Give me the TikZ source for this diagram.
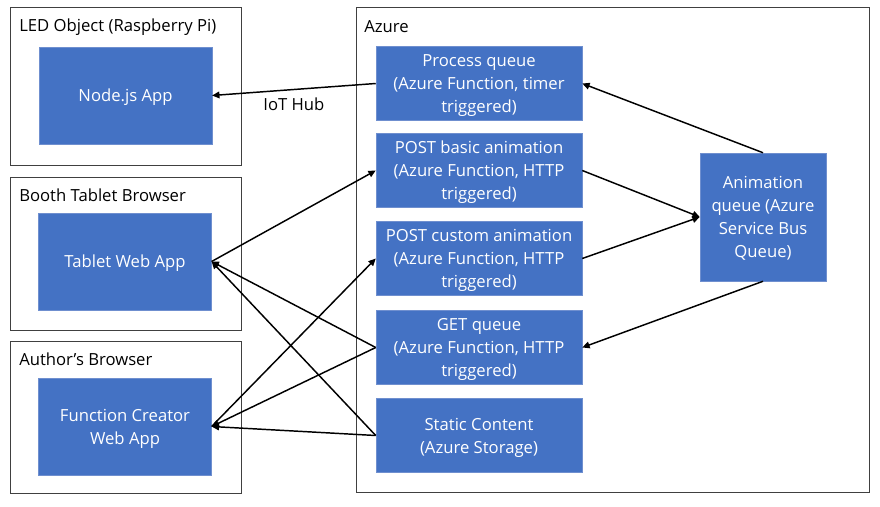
\documentclass[tikz,border=0pt]{standalone}
\usepackage{fontspec}
\setmainfont{Open Sans}
\usetikzlibrary{arrows.meta}
\definecolor{boxblau}{HTML}{4472C4}
\definecolor{boxrand}{HTML}{6F8FCF}

\begin{document}
\begin{tikzpicture}[x=0.75pt, y=-0.75pt,
	schrift/.style={font=\fontsize{12.5}{17.25}\selectfont},
	box/.style={schrift, draw=boxrand, fill=boxblau, text=white, align=center, inner sep=0pt, text depth=-1.3pt},
	klein/.style={box, minimum width=129.5pt, minimum height=72.75pt},
	azure/.style={box, minimum width=154.5pt, minimum height=55.5pt},
	titel/.style={schrift, anchor=west, inner sep=0pt},
	rahmen/.style={draw=black!75, line width=0.75pt},
	pfeil/.style={-{Triangle[length=5.5pt, width=5pt]}, line width=1.1pt}]
	\useasboundingbox (0,0) rectangle (880,506);
	% die rahmen
	\draw[rahmen] (10,8) rectangle (241,165);
	\draw[rahmen] (10,177) rectangle (241,330);
	\draw[rahmen] (10,341) rectangle (241,493);
	\draw[rahmen] (356,8) rectangle (869,492);
	% titel der rahmen
	\node[titel] (tled) at (19,27) {LED Object (Raspberry Pi)};
	\node[titel] (tbooth) at (19,195) {Booth Tablet Browser};
	\node[titel] (tauthor) at (19,359) {Author’s Browser};
	\node[titel] (tazure) at (364,27) {Azure};
	% die apps links
	\node[klein] (node) at (125.5,95.5) {Node.js App};
	\node[klein] (tablet) at (125,261.5) {Tablet Web App};
	\node[klein] (creator) at (125,426.5) {Function Creator\\Web App};
	% die funktionen in azure
	\node[azure] (process) at (479,83.5) {Process queue\\(Azure Function, timer\\triggered)};
	\node[azure] (basic) at (479,170.5) {POST basic animation\\(Azure Function, HTTP\\triggered)};
	\node[azure] (custom) at (479,258.5) {POST custom animation\\(Azure Function, HTTP\\triggered)};
	\node[azure] (getq) at (479,347.5) {GET queue\\(Azure Function, HTTP\\triggered)};
	\node[azure] (static) at (479,435.5) {Static Content\\(Azure Storage)};
	\node[box, minimum width=94.5pt, minimum height=96pt] (queue) at (763,217) {Animation\\queue (Azure\\Service Bus\\Queue)};
	% pfeile zur queue
	\draw[pfeil] (process.west) -- node[schrift, midway, below=2pt] (iot) {IoT Hub} (node.east);
	\draw[pfeil] (queue.north) -- (process.east);
	\draw[pfeil] (basic.east) -- (queue.west);
	\draw[pfeil] (custom.east) -- (queue.west);
	\draw[pfeil] (queue.south) -- (getq.east);
	% pfeile zu den browsern
	\draw[pfeil] (tablet.east) -- (basic.west);
	\draw[pfeil] (getq.west) -- (tablet.east);
	\draw[pfeil] (static.west) -- (tablet.east);
	\draw[pfeil] (creator.east) -- (custom.west);
	\draw[pfeil] (getq.west) -- (creator.east);
	\draw[pfeil] (static.west) -- (creator.east);
\end{tikzpicture}
\end{document}
